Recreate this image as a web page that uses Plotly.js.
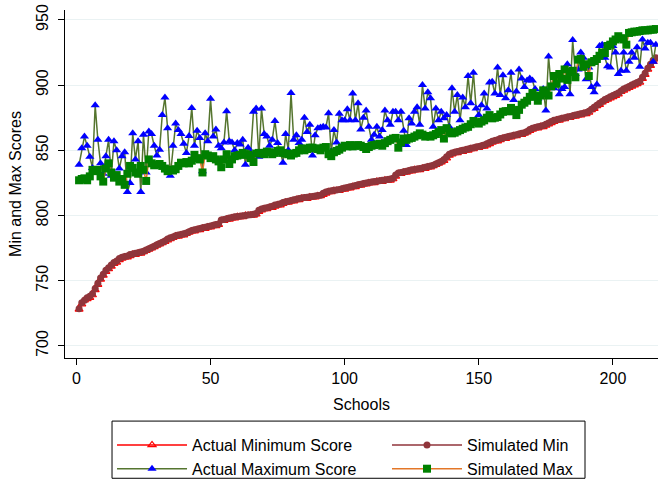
<!DOCTYPE html>
<html>
<head>
<meta charset="utf-8">
<script src="https://cdn.plot.ly/plotly-3.0.1.min.js"></script>
<style>
html,body{margin:0;padding:0;background:#fff;}
#chart{width:658px;height:486px;}
</style>
</head>
<body>
<div id="chart"></div>
<script>
// School index 1..216 (sorted by simulated minimum)
const schools = Array.from({length: 216}, (_, k) => k + 1);

const simulatedMin = [
728.5,733,735,737,738,740,744,748,752,755,
758,760,762,764,765,767,768,768.5,769,770,
770.5,771,771.5,772,772.5,773.5,774.5,775.5,776.5,777.5,
778.5,779.5,780.5,782,783,783.5,784.5,785,785.5,786,
786.5,787.5,788.5,789,789.5,790,790.5,791,791.5,792,
792.5,793,793.5,796.5,797,797.5,798,798.5,799,799.2,
799.5,799.8,800,800.3,800.6,801,801.5,804,805,805.5,
806,806.5,807,808,808.5,809,810,810.5,811,811.5,
812,812.5,813,813.5,813.8,814,814.3,814.6,815,815.3,
815.6,817,818,818.5,819,819.3,819.6,820,820.5,821,
821.5,822,822.5,823,823.5,824,824.5,825,825.3,825.6,
826,826.3,826.6,827,827.3,827.6,828,828.5,831,832.5,
833,833.5,834,834.5,835,835.3,835.6,836,836.5,837,
837.5,838,838.5,839.5,840.5,841.5,843,845,847,848,
848.5,849,849.5,850,850.5,851,851.5,852,852.5,853,
853.5,854,855,856,857,857.5,858,859,859.5,860,
860.5,861,861.5,862,862.5,863,863.5,864.5,866,867,
867.5,868,868.5,869,870,871,872,873,873.5,874,
874.5,875,875.5,876,876.5,877,877.5,878,878.5,879,
880,881.5,883,884.5,886,887.5,889,890,891,892,
893,894,895.5,897,898,899,900,901,902,903,
906,909,913,916,919,921
];

const actualMin = [
728,732,735,736,737,739,743,747,751,754,
757,759,761,763,764,766,767,768,768,769,
770,770,771,771,772,773,774,775,776,777,
778,779,780,781,782,783,784,784,785,785,
786,787,788,788,789,789,790,790,791,791,
792,792,793,796,796,797,797,798,798,799,
799,799,800,800,800,800,801,803,804,805,
805,806,806,807,808,808,809,810,810,811,
811,812,812,813,813,813,814,814,814,815,
815,816,817,818,818,819,819,819,820,820,
821,821,822,822,823,823,824,824,825,825,
825,826,826,826,827,827,827,828,830,832,
832,833,833,834,834,835,835,835,836,836,
837,837,838,839,840,841,842,844,846,847,
848,848,849,849,850,850,851,851,852,852,
853,853,854,855,856,857,857,858,859,859,
860,860,861,861,862,862,863,864,865,866,
867,867,868,868,869,870,871,872,873,873,
874,874,875,875,876,876,877,877,878,878,
879,881,882,884,885,887,888,889,890,891,
892,893,895,896,897,898,899,900,901,902,
905,908,912,915,918,920
];

const actualMax = [
839,851.5,860.5,853.5,845,836.5,884.5,858,840,832,
845.5,858,830.5,857,850,836,845.5,848.5,818,825,
863,843,857,818,862,833,864.5,862.5,853.5,846,
850.5,877,890.5,867,830.5,853.5,870.5,865.5,862.5,855,
848,861,882.5,853.5,865,859.5,834,863,857,889.5,
860.5,866,853.5,851.5,856,880,857,856,850,855.5,
854.5,858,839,852,848,879.5,882,845,882,862.5,
860.5,853.5,858,872.5,855.5,849,840.5,862.5,850,894,
858,861.5,855.5,858,875,864,869.5,846,861.5,867,
867.5,868,867.5,878.5,849,865.5,856,878,873,873,
881.5,873,893.5,873,886,866,875,880.5,868,858,
862,868,860.5,865.5,880.5,873,869.5,879.5,879.5,873,
879.5,865,854,874.5,870.5,879.5,883,869.5,900,882,
894.5,890,868,882,873,879.5,874.5,877,868,897.5,
879.5,892.5,873,890.5,883,907,886,909.5,882,877,
884.5,893.5,882,902,902.5,893.5,913.5,892.5,907.5,890,
896,909.5,888.5,895,912,905,898.5,903.5,905,903.5,
897,889.5,893,897,880.5,922,898.5,897.5,905,893,
897,898.5,916,893,934.5,908.5,912,925,921,904.5,
913.5,898.5,894.5,900.5,930,931,921,914.5,913.5,930,
925,908.5,911,925,911,918,925,921,929,914,
935,928,932.5,932.5,918,931
];

const simulatedMax = [
827,828,828.5,827,830,835,834,835,830,826,
836,840,833,829,831,826,828,823.5,832,838,
836.5,833,832,838,835,826.5,843,840,838.5,839,
839.5,838,836,834,835,834.5,835.5,838,840.5,840,
841,840,842,846.5,844,843,833,847,846,844,
845.5,843,841.5,837,843,847,839.5,843,845.5,846,
846.5,848,847,846.5,844,841,847.5,848,848,847,
849,848.5,847,848,849.5,850,848,847.5,847,846,
847.5,848,850,851.5,850,851,852,852,851.5,851,
850,852,852.5,847,845.5,848.5,849.5,850.5,852,853.5,
853,854,853,853.5,854,853.5,852.5,851,852.5,853.5,
854,854.5,855,853.5,855.5,857,858,859,859.5,852,
856,859,858,859,859.5,860.5,861.5,863,862,860.5,
861,860.5,861.5,862.5,864,865.5,859,867,864,863,
863.5,864.5,865.5,866.5,867.5,868,870,872.5,871.5,870.5,
872,873,875,877,874.5,875,875.5,877.5,879.5,880,
880,882.5,880,877,881,885,886.5,888,891,894,
891.5,888,892,896,894,892,899,907,901,908.5,
905,912,904,910,911,906,919.5,920,914,916,
907,917.5,918.5,920,922.5,925,924.5,930,931,933.5,
935,937.5,936,935,931,940,940.5,941,941,941.5,
942,942,942,942.5,942.5,943
];

const legendNames = ["Actual Minimum Score", "Simulated Min", "Actual Maximum Score", "Simulated Max"];
const xTicks = [0, 50, 100, 150, 200];
const yTicks = [700, 750, 800, 850, 900, 950];

const FONT = "Liberation Sans, Arial, Helvetica, sans-serif";

const traces = [
  {
    x: schools, y: actualMin, name: legendNames[0], legend: "legend", type: "scatter", mode: "lines+markers",
    line: {color: "#ff0000", width: 1.5},
    marker: {symbol: "triangle-up-open", size: 7, color: "#ff0000", line: {width: 1.2, color: "#ff0000"}}
  },
  {
    x: schools, y: simulatedMin, name: legendNames[1], legend: "legend2", type: "scatter", mode: "lines+markers",
    line: {color: "#90353b", width: 1.5},
    marker: {symbol: "circle", size: 7, color: "#90353b", line: {width: 0}}
  },
  {
    x: schools, y: actualMax, name: legendNames[2], legend: "legend", type: "scatter", mode: "lines+markers",
    line: {color: "#55752f", width: 1.5},
    marker: {symbol: "triangle-up", size: 8, color: "#0000ff", line: {width: 0}}
  },
  {
    x: schools, y: simulatedMax, name: legendNames[3], legend: "legend2", type: "scatter", mode: "lines+markers",
    line: {color: "#e37728", width: 1.5},
    marker: {symbol: "square", size: 8, color: "#008000", line: {width: 0}}
  }
];

const legendStyle = {
  orientation: "v",
  yanchor: "top",
  y: -0.2015,
  xanchor: "left",
  bgcolor: "rgba(0,0,0,0)", borderwidth: 0,
  font: {family: FONT, size: 16, color: "#000"},
  itemwidth: 70,
  traceorder: "normal"
};

const layout = {
  width: 658, height: 486,
  paper_bgcolor: "#ffffff", plot_bgcolor: "#ffffff",
  font: {family: FONT, size: 16, color: "#000000"},
  margin: {l: 65, r: 0, t: 10, b: 123, pad: 0},
  showlegend: true,
  xaxis: {
    range: [-4.25, 216.8],
    tickvals: xTicks, ticktext: xTicks.map(String),
    ticks: "outside", ticklen: 6, tickwidth: 1, tickcolor: "#000",
    showline: true, linecolor: "#000", linewidth: 1,
    showgrid: false, zeroline: false,
    tickfont: {family: FONT, size: 16, color: "#000"},
    title: {text: "Schools", font: {family: FONT, size: 16, color: "#000"}, standoff: 12},
    automargin: false
  },
  yaxis: {
    range: [690.7, 957.6],
    tickvals: yTicks, ticktext: yTicks.map(String),
    tickangle: -90,
    ticks: "outside", ticklen: 6, tickwidth: 1, tickcolor: "#000",
    ticklabelstandoff: 4,
    showline: true, linecolor: "#000", linewidth: 1,
    showgrid: true, gridcolor: "#eaf2f3", gridwidth: 1,
    zeroline: false,
    tickfont: {family: FONT, size: 16, color: "#000"},
    title: {text: "Min and Max Scores", font: {family: FONT, size: 16, color: "#000"}, standoff: 7},
    automargin: false
  },
  legend: Object.assign({}, legendStyle, {x: 0.0793}),
  legend2: Object.assign({}, legendStyle, {x: 0.543}),
  shapes: [{
    type: "rect", xref: "paper", yref: "paper",
    x0: 0.0793, x1: 0.8769, y0: -0.3456, y1: -0.1813,
    line: {color: "#000", width: 1}, fillcolor: "rgba(0,0,0,0)", layer: "below"
  }]
};

Plotly.newPlot("chart", traces, layout, {displayModeBar: false, staticPlot: true});
</script>
</body>
</html>
